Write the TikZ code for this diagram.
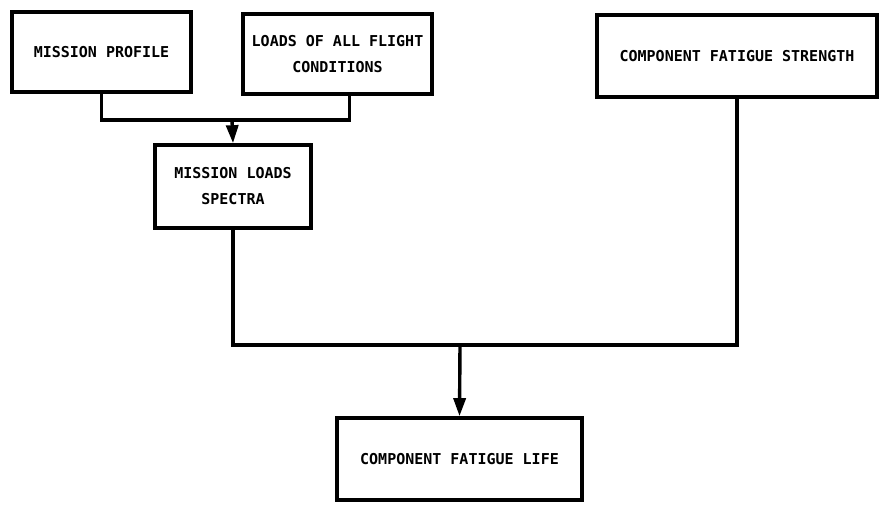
\documentclass[tikz,border=0pt]{standalone}
\usepackage{fontspec}
\setmonofont{DejaVu Sans Mono}
\usetikzlibrary{arrows.meta}
\begin{document}
\begin{tikzpicture}[x=1pt,y=-1pt,
  blk/.style={draw, line width=3.6pt, align=center, inner sep=0pt,
    font=\ttfamily\bfseries\fontsize{15}{26}\selectfont},
  link/.style={line width=3.4pt},
  arr/.style={line width=3.4pt, -{Triangle[length=18pt,width=12pt]}}]
\useasboundingbox (0,0) rectangle (880,510);
\node[blk, minimum width=179pt, minimum height=80pt] (b1) at (101.5,52) {MISSION PROFILE};
\node[blk, minimum width=189pt, minimum height=80pt] (b2) at (337.5,54) {LOADS OF ALL FLIGHT\\CONDITIONS};
\node[blk, minimum width=280pt, minimum height=82pt] (b3) at (737,56) {COMPONENT FATIGUE STRENGTH};
\node[blk, minimum width=156pt, minimum height=83pt] (b4) at (233,186.5) {MISSION LOADS\\SPECTRA};
\node[blk, minimum width=245pt, minimum height=82pt] (b5) at (459.5,459) {COMPONENT FATIGUE LIFE};
\coordinate (j1) at (232,120);
\coordinate (j2) at (460,345);
\draw[link] (b1.south) |- (j1) -| ([xshift=12pt]b2.south);
\draw[arr] (j1) -- (b4.north);
\draw[link] (b4.south) |- (j2) -| (b3.south);
\draw[arr] (j2) -- (b5.north);
\end{tikzpicture}
\end{document}
